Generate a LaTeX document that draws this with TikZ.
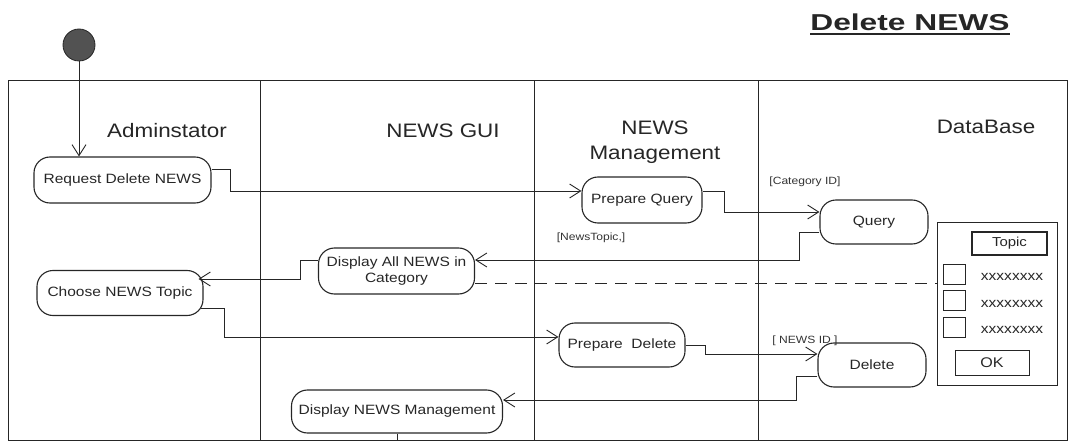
\documentclass[tikz,border=0pt]{standalone}
\usepackage{fontspec}
\setmainfont{Liberation Sans}[FakeStretch=1.15]
\newfontfamily\titlefont{Liberation Sans}[FakeStretch=1.38]
\usetikzlibrary{arrows.meta}
\begin{document}
\begin{tikzpicture}[x=1pt,y=-1pt,
  line/.style={draw=black!85, line width=1pt},
  act/.style={draw=black!85, line width=1.1pt, rounded corners=16pt, inner sep=0pt, align=center,
    font=\fontsize{13.5}{16}\selectfont, text=black!85},
  flow/.style={draw=black!85, line width=0.9pt, -{Straight Barb[length=11pt,width=14pt,line width=0.9pt]}},
  lane/.style={font=\fontsize{19.5}{24}\selectfont, text=black!85, anchor=base, inner sep=0pt},
  guard/.style={font=\fontsize{10.5}{12}\selectfont, text=black!80, inner sep=0pt},
  cb/.style={draw=black!85, line width=0.9pt, minimum width=22pt, minimum height=20pt, inner sep=0pt},
  xx/.style={font=\fontsize{13.5}{15}\selectfont, text=black!85, inner sep=0pt},
  ]
\useasboundingbox (0,0) rectangle (1069,441);

% frame and lanes
\draw[line] (8.3,81) rectangle (1067,440);
\draw[line] (260,81) -- (260,440);
\draw[line] (534.5,81) -- (534.5,440);
\draw[line] (758,81) -- (758,440);

% title
\node[font=\titlefont\fontsize{23}{28}\selectfont\bfseries, text=black!85, anchor=base, inner sep=0pt] (title) at (910,31) {Delete NEWS};
\draw[line width=1.4pt, black!85] ([yshift=-2.5pt]title.south west) -- ([yshift=-2.5pt]title.south east);

% lane labels
\node[lane] (l1) at (167,138) {Adminstator};
\node[lane] (l2) at (443,138) {NEWS GUI};
\node[lane] (l3a) at (655,134.5) {NEWS};
\node[lane] (l3b) at (655,160) {Management};
\node[lane] (l4) at (986,134) {DataBase};

% initial node
\node[circle, fill=black!68, draw=black!85, line width=0.8pt, minimum size=32pt, inner sep=0pt] (init) at (79,45) {};

% activities
\node[act, minimum width=177pt, minimum height=46pt] (req) at (122.5,180) {Request Delete NEWS};
\node[act, minimum width=120pt, minimum height=46pt] (pq) at (642,200) {Prepare Query};
\node[act, minimum width=108pt, minimum height=44pt] (query) at (874,222) {Query};
\node[act, minimum width=156pt, minimum height=46pt] (dispall) at (396.5,271) {Display All NEWS in\\Category};
\node[act, minimum width=166pt, minimum height=45pt] (choose) at (120,293) {Choose NEWS Topic};
\node[act, minimum width=126pt, minimum height=44pt] (prepdel) at (622,345) {Prepare\ \ Delete};
\node[act, minimum width=108pt, minimum height=44pt] (delete) at (872,365) {Delete};
\node[act, minimum width=211pt, minimum height=43pt] (dnm) at (397,411.5) {Display NEWS Management};

% guards
\node[guard] (g1) at (805,181.5) {[Category ID]};
\node[guard] (g2) at (591,238) {[NewsTopic,]};
\node[guard] (g3) at (805,341) {[ NEWS ID ]};

% topic panel
\node[draw=black!85, line width=1pt, minimum width=120pt, minimum height=163pt, inner sep=0pt] (panel) at (997,303.5) {};
\node[draw=black!85, line width=1.5pt, minimum width=75pt, minimum height=23pt, inner sep=0pt,
  font=\fontsize{13}{15}\selectfont, text=black!85] (topic) at (1009.5,243.5) {Topic};
\node[cb] (cb1) at (954,274) {};
\node[cb] (cb2) at (954,300) {};
\node[cb] (cb3) at (954,327) {};
\node[xx] (x1) at (1012,277) {xxxxxxxx};
\node[xx] (x2) at (1012,303.5) {xxxxxxxx};
\node[xx] (x3) at (1012,330) {xxxxxxxx};
\node[draw=black!85, line width=0.9pt, minimum width=74pt, minimum height=25pt, inner sep=0pt,
  font=\fontsize{14}{16}\selectfont, text=black!85] (ok) at (992,362.5) {OK};

% connectors
\draw[flow] (init.south) -- (init.south |- req.north);
\draw[flow] ([yshift=11pt]req.east) -- ++(19,0) |- ([yshift=9pt]pq.west);
\draw[flow] ([yshift=9pt]pq.east) -- ++(22,0) |- ([yshift=10pt]query.west);
\draw[flow] ([yshift=-10pt]query.west) -- ++(-20,0) |- ([yshift=11pt]dispall.east);
\draw[flow] ([yshift=11pt]dispall.west) -- ++(-18,0) |- ([xshift=-5pt,yshift=14pt]choose.east);
\draw[flow] ([xshift=-3pt,yshift=-15pt]choose.east) -- ++(24,0) |- ([yshift=8pt]prepdel.west);
\draw[flow] (prepdel.east) -- ++(20,0) |- ([yshift=11pt]delete.west);
\draw[flow] ([yshift=-11pt]delete.west) -- ++(-21,0) |- ([yshift=11.5pt]dnm.east);
\coordinate (dnmout) at (397,450);
\draw[line, line width=0.9pt] (dnm.south) -- (dnmout);

% dashed link to panel
\coordinate (dstart) at ([yshift=-12pt]dispall.east);
\draw[line, line width=0.9pt, dash pattern=on 12pt off 8pt] (dstart) -- (dstart -| panel.west);
\end{tikzpicture}
\end{document}
